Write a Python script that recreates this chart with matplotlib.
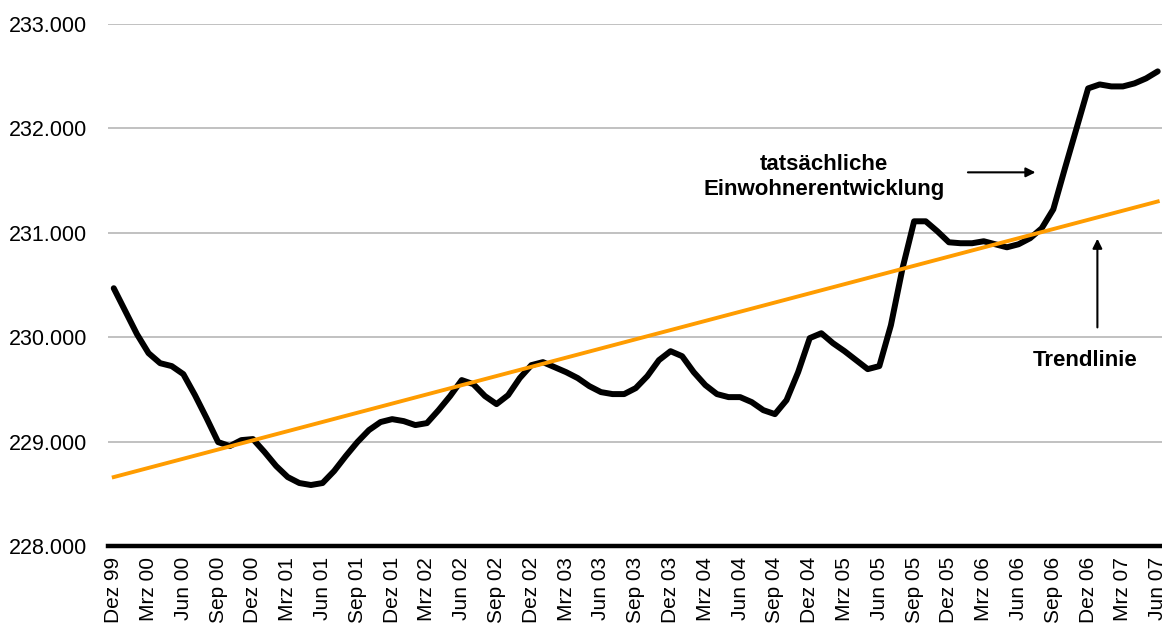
import matplotlib
matplotlib.use("Agg")
import matplotlib.pyplot as plt
import numpy as np

plt.rcParams["font.family"] = ["Liberation Sans", "DejaVu Sans"]

# monthly population, Dez 99 .. Jun 07
POP = [230469, 230249, 230029, 229847, 229751, 229723, 229646, 229445, 229225, 228995,
       228957, 229014, 229024, 228900, 228766, 228660, 228603, 228584, 228603, 228718,
       228861, 228995, 229110, 229187, 229215, 229196, 229158, 229177, 229301, 229436,
       229589, 229550, 229436, 229359, 229445, 229608, 229732, 229761, 229713, 229665,
       229608, 229531, 229474, 229455, 229455, 229512, 229627, 229780, 229866, 229818,
       229665, 229541, 229455, 229426, 229426, 229378, 229301, 229263, 229397, 229665,
       229991, 230038, 229943, 229866, 229780, 229694, 229723, 230115, 230660, 231110,
       231110, 231015, 230909, 230900, 230900, 230919, 230890, 230861, 230890, 230948,
       231043, 231225, 231617, 232000, 232383, 232421, 232402, 232402, 232431, 232479,
       232546]
# linear trend line, value at first and last month
TREND = [228660, 231300]
QUARTER_LABELS = ["Dez 99", "Mrz 00", "Jun 00", "Sep 00", "Dez 00", "Mrz 01", "Jun 01",
                  "Sep 01", "Dez 01", "Mrz 02", "Jun 02", "Sep 02", "Dez 02", "Mrz 03",
                  "Jun 03", "Sep 03", "Dez 03", "Mrz 04", "Jun 04", "Sep 04", "Dez 04",
                  "Mrz 05", "Jun 05", "Sep 05", "Dez 05", "Mrz 06", "Jun 06", "Sep 06",
                  "Dez 06", "Mrz 07", "Jun 07"]
Y_TICKS = [228000, 229000, 230000, 231000, 232000, 233000]

n = len(POP)
xs = np.arange(n)

fig = plt.figure(figsize=(11.62, 6.28), dpi=100)
ax = fig.add_axes([0.0929, 0.1306, 0.9084, 0.8312])

ax.plot(xs, POP, color="black", lw=4.3, solid_capstyle="round",
        solid_joinstyle="round", zorder=3)
ax.plot([0, n - 1], TREND, color="#ff9c00", lw=2.8, zorder=4)

ax.set_xlim(-0.5, n - 0.5)
ax.set_ylim(Y_TICKS[0], Y_TICKS[-1])
ax.set_yticks(Y_TICKS)
ax.set_yticklabels([f"{v:,}".replace(",", ".") for v in Y_TICKS], fontsize=15.5)
ax.set_xticks(np.arange(0, n, 3))
ax.set_xticklabels(QUARTER_LABELS, rotation=90, fontsize=15, va="top")
ax.tick_params(axis="both", length=0)
ax.tick_params(axis="y", pad=15)
ax.tick_params(axis="x", pad=8)

ax.grid(axis="y", color="#b0b0b0", lw=1.1)
ax.set_axisbelow(True)
for sp in ("top", "right", "left"):
    ax.spines[sp].set_visible(False)
ax.spines["bottom"].set_linewidth(3.2)
ax.spines["bottom"].set_zorder(5)

# annotations
ax.text(61.2, 231536, "tatsächliche\nEinwohnerentwicklung", ha="center", va="center",
        fontsize=16, fontweight="bold", linespacing=1.25)
ax.annotate("", xy=(79.7, 231579), xytext=(73.4, 231579),
            arrowprops=dict(arrowstyle="-|>", color="black", lw=1.5, mutation_scale=14))
ax.text(83.7, 229780, "Trendlinie", ha="center", va="center",
        fontsize=16, fontweight="bold")
ax.annotate("", xy=(84.8, 230970), xytext=(84.8, 230067),
            arrowprops=dict(arrowstyle="-|>", color="black", lw=1.5, mutation_scale=14))

fig.savefig("out.png", dpi=100)
